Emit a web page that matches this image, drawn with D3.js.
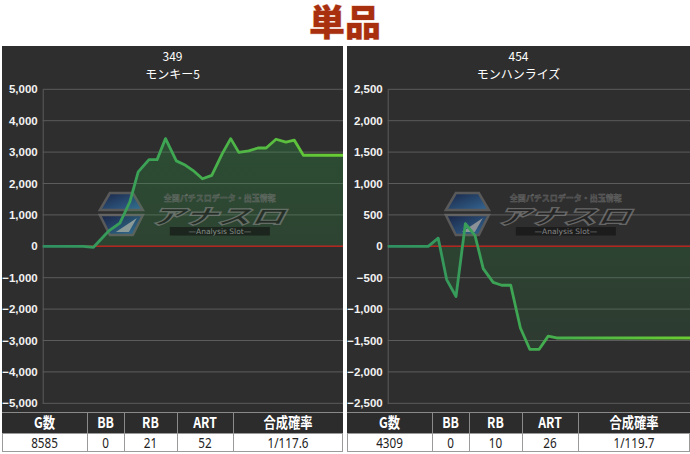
<!DOCTYPE html>
<html>
<head>
<meta charset="utf-8">
<script src="https://cdn.jsdelivr.net/npm/d3@7"></script>
<style>
  html, body { margin: 0; padding: 0; background: #ffffff; }
  svg { display: block; }
</style>
</head>
<body>
<svg id="chart" width="690" height="454"></svg>
<script>
// ---------- data ----------
const pageTitle = "単品";
const machineNumbers = ["349", "454"];
const machineNames = ["モンキー5", "モンハンライズ"];

// x is the position along the day (0-100), y is the difference in medals
const monkeyX = [0, 13.5, 16.9, 21.9, 25.7, 29.0, 31.8, 35.4, 38.1, 40.9, 44.5, 47.2, 50.0, 53.2, 56.3, 59.8, 62.6, 65.3, 68.6, 71.7, 74.4, 77.7, 81.0, 83.8, 86.8, 100];
const monkeyY = [0, 0, -30, 480, 740, 1410, 2370, 2760, 2760, 3430, 2720, 2600, 2420, 2150, 2260, 2950, 3430, 2990, 3040, 3130, 3130, 3410, 3320, 3380, 2900, 2900];

const monhanX = [0, 13.4, 16.7, 19.5, 22.6, 25.7, 28.9, 31.6, 34.9, 37.7, 40.7, 43.9, 47.0, 50.1, 53.1, 55.9, 100];
const monhanY = [0, 0, 130, -530, -800, 360, 170, -355, -575, -620, -620, -1300, -1640, -1640, -1430, -1460, -1460];

const monkeyTicks = [5000, 4000, 3000, 2000, 1000, 0, -1000, -2000, -3000, -4000, -5000];
const monhanTicks = [2500, 2000, 1500, 1000, 500, 0, -500, -1000, -1500, -2000, -2500];

const tableHeaders = ["G数", "BB", "RB", "ART", "合成確率"];
const monkeyStats = ["8585", "0", "21", "52", "1/117.6"];
const monhanStats = ["4309", "0", "10", "26", "1/119.7"];

// ---------- layout ----------
const svg = d3.select("#chart");
const defs = svg.append("defs");

svg.append("text")
  .attr("x", 345).attr("y", 36)
  .attr("text-anchor", "middle")
  .attr("font-family", "'Noto Sans CJK JP', sans-serif")
  .attr("font-weight", "900")
  .attr("font-size", 36)
  .attr("fill", "#a8300e")
  .attr("stroke", "#e9c3b5").attr("stroke-width", 0.8)
  .attr("paint-order", "stroke")
  .text(pageTitle);

const panels = [
  { x0: 2, x1: 343, num: machineNumbers[0], name: machineNames[0], xs: monkeyX, ys: monkeyY, ticks: monkeyTicks, stats: monkeyStats },
  { x0: 347, x1: 690, num: machineNumbers[1], name: machineNames[1], xs: monhanX, ys: monhanY, ticks: monhanTicks, stats: monhanStats }
];

const panelTop = 46, panelBottom = 412;
const plotTop = 89.3, plotBottom = 403.3;
const colWidths = [85, 37, 53, 56];

panels.forEach((p, i) => {
  const g = svg.append("g");
  const axisX = p.x0 + 40.7;

  g.append("rect")
    .attr("x", p.x0).attr("y", panelTop)
    .attr("width", p.x1 - p.x0).attr("height", panelBottom - panelTop)
    .attr("fill", "#2e2e2e");

  g.append("text")
    .attr("x", (p.x0 + p.x1) / 2).attr("y", 61)
    .attr("text-anchor", "middle")
    .attr("font-family", "'Noto Sans CJK JP', sans-serif")
    .attr("font-size", 12).attr("fill", "#ffffff")
    .text(p.num);
  g.append("text")
    .attr("x", (p.x0 + p.x1) / 2).attr("y", 79)
    .attr("text-anchor", "middle")
    .attr("font-family", "'Noto Sans CJK JP', sans-serif")
    .attr("font-size", 12).attr("fill", "#ffffff")
    .text(p.name);

  const x = d3.scaleLinear().domain([0, 100]).range([axisX, p.x1]);
  const yMax = d3.max(p.ticks);
  const y = d3.scaleLinear().domain([-yMax, yMax]).range([plotBottom, plotTop]);

  // grid
  g.append("g").selectAll("line").data(p.ticks).join("line")
    .attr("x1", axisX).attr("x2", p.x1)
    .attr("y1", d => y(d)).attr("y2", d => y(d))
    .attr("stroke", "#5c5c5c").attr("stroke-width", 1);

  // y axis
  const yAxis = d3.axisLeft(y).tickValues(p.ticks).tickSize(0).tickPadding(5)
    .tickFormat(d3.format(","));
  const ag = g.append("g").attr("transform", `translate(${axisX},0)`).call(yAxis);
  ag.select(".domain").attr("stroke", "#5c5c5c");
  ag.selectAll("text")
    .attr("font-family", "'Liberation Sans', Arial, sans-serif")
    .attr("font-weight", "bold")
    .attr("font-size", 11.5)
    .attr("fill", "#f2f2f2");

  const pts = p.xs.map((xv, k) => [xv, p.ys[k]]);

  // area fill gradient
  const ag2 = defs.append("linearGradient")
    .attr("id", "areaGrad" + i)
    .attr("gradientUnits", "userSpaceOnUse")
    .attr("x1", 0).attr("x2", 0).attr("y1", plotTop).attr("y2", plotBottom);
  ag2.append("stop").attr("offset", "0%").attr("stop-color", "#28963f").attr("stop-opacity", 0.34);
  ag2.append("stop").attr("offset", "100%").attr("stop-color", "#28963f").attr("stop-opacity", 0.07);

  const lineGrad = defs.append("linearGradient")
    .attr("id", "lineGrad" + i)
    .attr("gradientUnits", "userSpaceOnUse")
    .attr("x1", axisX).attr("x2", p.x1).attr("y1", 0).attr("y2", 0);
  lineGrad.append("stop").attr("offset", "0%").attr("stop-color", "#2f8f62");
  lineGrad.append("stop").attr("offset", "45%").attr("stop-color", "#3fa852");
  lineGrad.append("stop").attr("offset", "100%").attr("stop-color", "#6acd32");

  g.append("path")
    .datum(pts)
    .attr("d", d3.area().x(d => x(d[0])).y0(y(0)).y1(d => y(d[1])))
    .attr("fill", `url(#areaGrad${i})`);

  // watermark
  const cx = (axisX + p.x1) / 2;
  const wm = g.append("g").attr("opacity", 0.6);
  const hx0 = cx - 93, hx1 = cx - 50;
  const hexTop = `M${hx0 + 10},193 L${hx1 - 10},193 L${hx1},210 L${hx0},210 Z`;
  const hexBot = `M${hx0},215 L${hx1},215 L${hx1 - 10},235 L${hx0 + 10},235 Z`;
  const hexGrad = defs.append("linearGradient").attr("id", "hexGrad" + i)
    .attr("x1", 0).attr("x2", 1).attr("y1", 0).attr("y2", 1);
  hexGrad.append("stop").attr("offset", "0%").attr("stop-color", "#0d1f55");
  hexGrad.append("stop").attr("offset", "100%").attr("stop-color", "#3a8fd8");
  wm.append("path").attr("d", hexTop).attr("fill", `url(#hexGrad${i})`)
    .attr("stroke", "#777").attr("stroke-width", 2.5);
  wm.append("path").attr("d", hexBot).attr("fill", `url(#hexGrad${i})`)
    .attr("stroke", "#777").attr("stroke-width", 2.5);
  wm.append("path")
    .attr("d", `M${hx1 - 6},218 L${hx1 - 14},232 L${hx0 + 16},232 Z`)
    .attr("fill", "#c9d3dc");
  wm.append("text")
    .attr("x", cx + 27).attr("y", 201)
    .attr("text-anchor", "middle")
    .attr("font-family", "'Noto Sans CJK JP', sans-serif")
    .attr("font-weight", "bold")
    .attr("font-size", 8).attr("fill", "#555").attr("stroke", "#888").attr("stroke-width", 0.4)
    .text("全国パチスロデータ・出玉情報");
  wm.append("text")
    .attr("transform", `translate(${cx + 24},224) scale(1.4,0.85) skewX(-18)`)
    .attr("text-anchor", "middle")
    .attr("font-family", "'Noto Sans CJK JP', sans-serif")
    .attr("font-weight", "900")
    .attr("font-size", 24).attr("fill", "#1e1e1e")
    .attr("stroke", "#8a8a8a").attr("stroke-width", 1.4)
    .text("アナスロ");
  wm.append("rect")
    .attr("x", cx - 23).attr("y", 227).attr("width", 100).attr("height", 8.5)
    .attr("fill", "#111");
  wm.append("text")
    .attr("x", cx + 27).attr("y", 234)
    .attr("text-anchor", "middle")
    .attr("font-family", "'DejaVu Sans', sans-serif")
    .attr("font-size", 7.5).attr("fill", "#bbb")
    .text("—Analysis Slot—");

  // zero line
  g.append("line")
    .attr("x1", axisX).attr("x2", p.x1)
    .attr("y1", y(0)).attr("y2", y(0))
    .attr("stroke", "#b3261e").attr("stroke-width", 1.5);

  // data line
  g.append("path")
    .datum(pts)
    .attr("d", d3.line().x(d => x(d[0])).y(d => y(d[1])))
    .attr("fill", "none")
    .attr("stroke", `url(#lineGrad${i})`)
    .attr("stroke-width", 2.8)
    .attr("stroke-linejoin", "round");

  // table
  const widths = colWidths.concat([(p.x1 - p.x0) - d3.sum(colWidths)]);
  const edges = [p.x0];
  widths.forEach(w => edges.push(edges[edges.length - 1] + w));
  const hTop = 412, hBot = 433, dBot = 452;
  const t = svg.append("g");
  t.append("rect").attr("x", p.x0).attr("y", hTop).attr("width", p.x1 - p.x0).attr("height", hBot - hTop).attr("fill", "#2c2c2c");
  t.append("rect").attr("x", p.x0 + 0.5).attr("y", hBot + 0.5).attr("width", p.x1 - p.x0 - 1).attr("height", dBot - hBot - 1)
    .attr("fill", "#ffffff").attr("stroke", "#9a9a9a");
  t.append("line").attr("x1", p.x0).attr("x2", p.x1).attr("y1", hTop + 0.5).attr("y2", hTop + 0.5).attr("stroke", "#8a8a8a");
  edges.slice(1, -1).forEach(ex => {
    t.append("line").attr("x1", ex + 0.5).attr("x2", ex + 0.5).attr("y1", hTop).attr("y2", hBot).attr("stroke", "#8a8a8a");
    t.append("line").attr("x1", ex + 0.5).attr("x2", ex + 0.5).attr("y1", hBot).attr("y2", dBot).attr("stroke", "#9a9a9a");
  });
  tableHeaders.forEach((h, k) => {
    const mx = (edges[k] + edges[k + 1]) / 2;
    t.append("text")
      .attr("transform", `translate(${mx},428) scale(0.82,1)`)
      .attr("text-anchor", "middle")
      .attr("font-family", "'Noto Sans CJK JP', sans-serif")
      .attr("font-weight", "bold")
      .attr("font-size", 15).attr("fill", "#ffffff")
      .text(h);
    t.append("text")
      .attr("transform", `translate(${mx},448) scale(0.78,1)`)
      .attr("text-anchor", "middle")
      .attr("font-family", "'Noto Sans', sans-serif")
      .attr("font-size", 15).attr("fill", "#222")
      .text(p.stats[k]);
  });
});
</script>
</body>
</html>
